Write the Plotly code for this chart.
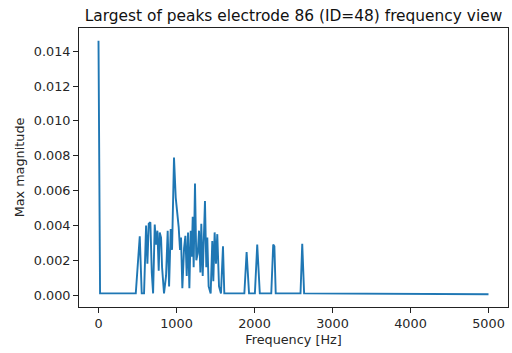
import plotly.graph_objects as go

# Frequency (Hz) and max magnitude at vertices
freq = [0, 20, 478, 529, 554, 584, 610, 627, 644, 665, 683, 700, 721, 738, 755, 772,
        785, 802, 815, 840, 866, 887, 905, 926, 943, 968, 990, 1011, 1028, 1045, 1058,
        1075, 1097, 1114, 1131, 1148, 1165, 1182, 1195, 1208, 1220, 1237, 1254, 1272,
        1289, 1306, 1318, 1336, 1348, 1365, 1382, 1395, 1412, 1438, 1459, 1472, 1489,
        1506, 1523, 1545, 1570, 1596, 1613, 1870, 1899, 1930, 2005, 2035, 2068, 2215,
        2240, 2255, 2272, 2590, 2612, 2636, 5000]
magnitude = [0.0146, 0.0001, 0.0001, 0.00338, 0.0001, 0.0001, 0.0040, 0.0018, 0.0041,
             0.00418, 0.0013, 0.0001, 0.00405, 0.0029, 0.0037, 0.0014, 0.0036, 0.0033,
             0.0016, 0.0001, 0.0011, 0.0037, 0.0005, 0.0038, 0.0026, 0.0079, 0.0056,
             0.0047, 0.0039, 0.0026, 0.0033, 0.0004, 0.0027, 0.0034, 0.0011, 0.0036,
             0.0004, 0.0037, 0.0022, 0.0045, 0.0016, 0.0064, 0.0020, 0.0024, 0.0037,
             0.0013, 0.0041, 0.0011, 0.0031, 0.0054, 0.0016, 0.0033, 0.0005, 0.0001,
             0.0031, 0.0008, 0.0036, 0.0018, 0.0035, 0.0005, 0.0001, 0.0028, 0.0001,
             0.0001, 0.00247, 0.0001, 0.0001, 0.0029, 0.0001, 0.0001, 0.0029, 0.0028,
             0.0001, 0.0001, 0.00295, 0.0001, 0.00005]

x_ticks = [0, 1000, 2000, 3000, 4000, 5000]
y_ticks = [0.0, 0.002, 0.004, 0.006, 0.008, 0.010, 0.012, 0.014]

title_text = "Largest of peaks electrode 86 (ID=48) frequency view"
x_label = "Frequency [Hz]"
y_label = "Max magnitude"

font_family = "DejaVu Sans"

fig = go.Figure(go.Scatter(x=freq, y=magnitude, mode="lines",
                           line=dict(color="#1f77b4", width=1.9)))

axis_common = dict(showline=True, mirror=True, linecolor="#222222", linewidth=1,
                   ticks="outside", ticklen=5, tickwidth=1, tickcolor="#222222",
                   showgrid=False, zeroline=False,
                   tickfont=dict(family=font_family, size=12.8, color="#262626"))

fig.update_layout(
    width=512, height=353,
    paper_bgcolor="white", plot_bgcolor="white",
    margin=dict(l=79, r=4, t=28, b=46),
    showlegend=False,
    title=dict(text=title_text, x=0.5, xref="paper", y=1 - 16 / 353, yref="container",
               xanchor="center", yanchor="middle",
               font=dict(family=font_family, size=15.4, color="#111111")),
    xaxis=dict(range=[-250, 5250], tickvals=x_ticks,
               ticktext=[str(v) for v in x_ticks],
               title=dict(text=x_label, standoff=4,
                          font=dict(family=font_family, size=12.8, color="#262626")),
               **axis_common),
    yaxis=dict(range=[-0.00068, 0.01533], tickvals=y_ticks,
               ticktext=[f"{v:.3f}" for v in y_ticks],
               title=dict(text=y_label, standoff=6,
                          font=dict(family=font_family, size=12.8, color="#262626")),
               **axis_common),
)

fig.write_html("out.html")
